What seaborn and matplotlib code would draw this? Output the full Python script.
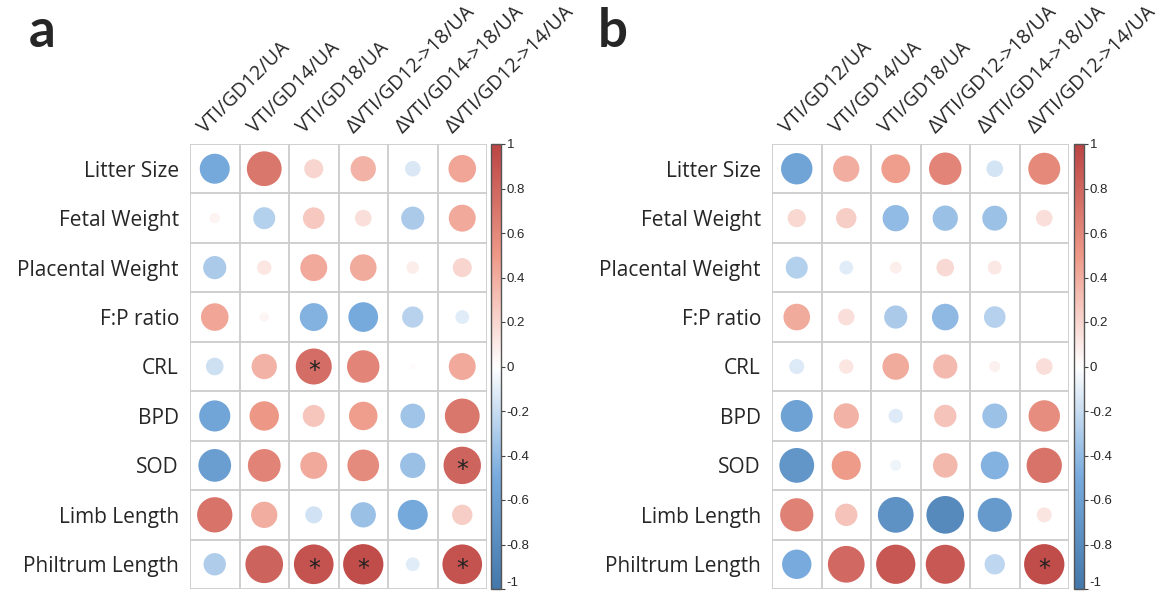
import numpy as np
import pandas as pd
import matplotlib
matplotlib.use("Agg")
import matplotlib.pyplot as plt
import matplotlib.transforms as mtransforms
from matplotlib.colors import LinearSegmentedColormap, Normalize
import seaborn as sns

sns.set_style("white")
plt.rcParams['font.family'] = ['Open Sans', 'DejaVu Sans']

rows = ["Litter Size", "Fetal Weight", "Placental Weight", "F:P ratio", "CRL",
        "BPD", "SOD", "Limb Length", "Philtrum Length"]
cols = ["VTI/GD12/UA", "VTI/GD14/UA", "VTI/GD18/UA",
        "ΔVTI/GD12->18/UA", "ΔVTI/GD14->18/UA", "ΔVTI/GD12->14/UA"]

r_a = [
    [-0.52, 0.70, 0.21, 0.37, -0.14, 0.44],
    [0.06, -0.28, 0.27, 0.16, -0.31, 0.42],
    [-0.31, 0.12, 0.42, 0.41, 0.09, 0.21],
    [0.44, 0.05, -0.45, -0.51, -0.26, -0.11],
    [-0.18, 0.37, 0.75, 0.61, 0.02, 0.42],
    [-0.56, 0.50, 0.28, 0.47, -0.35, 0.70],
    [-0.62, 0.62, 0.42, 0.58, -0.37, 0.81],
    [0.72, 0.40, -0.17, -0.37, -0.52, 0.24],
    [-0.29, 0.82, 0.91, 0.94, -0.11, 0.91],
]
r_b = [
    [-0.57, 0.40, 0.48, 0.61, -0.16, 0.59],
    [0.19, 0.24, -0.40, -0.37, -0.36, 0.16],
    [-0.28, -0.11, 0.08, 0.18, 0.11, 0.005],
    [0.41, 0.16, -0.31, -0.41, -0.27, 0.004],
    [-0.13, 0.12, 0.41, 0.34, 0.07, 0.16],
    [-0.59, 0.37, -0.12, 0.29, -0.36, 0.57],
    [-0.70, 0.49, -0.07, 0.35, -0.45, 0.72],
    [0.64, 0.29, -0.74, -0.82, -0.67, 0.13],
    [-0.50, 0.78, 0.89, 0.88, -0.24, 0.94],
]
sig_a = [(4, 2), (6, 5), (8, 2), (8, 3), (8, 5)]
sig_b = [(8, 5)]

cmap = LinearSegmentedColormap.from_list(
    "corr", ["#4477AA", "#77AADD", "#FFFFFF", "#EE9988", "#BB4444"])

W, H = 1168, 594
fig = plt.figure(figsize=(W / 100, H / 100), dpi=100)


def panel(left_px, cbar_px, r, sig, letter, letter_x):
    ax = fig.add_axes([left_px / W, 1 - 589 / H, 297 / W, 445 / H])
    df = pd.DataFrame([(i, j, r[i][j]) for i in range(len(rows)) for j in range(len(cols))],
                      columns=["row", "col", "r"])
    df["absr"] = df["r"].abs()
    cell_pt = 297 / len(cols) * 72 / 100
    smax = (0.84 * cell_pt) ** 2
    sns.scatterplot(data=df, x="col", y="row", hue="r", palette=cmap, hue_norm=(-1, 1),
                    size="absr", sizes=(0, smax), size_norm=(0, 1), linewidth=0,
                    legend=False, ax=ax, zorder=3)
    ax.set_xlim(-0.5, len(cols) - 0.5)
    ax.set_ylim(len(rows) - 0.5, -0.5)
    for k in range(len(cols) + 1):
        ax.axvline(k - 0.5, color="#cccccc", lw=1.3, zorder=1)
    for k in range(len(rows) + 1):
        ax.axhline(k - 0.5, color="#cccccc", lw=1.3, zorder=1)
    for s in ax.spines.values():
        s.set_visible(False)
    ax.set_xlabel("")
    ax.set_ylabel("")
    ax.set_xticks([])
    ax.set_yticks(range(len(rows)))
    ax.set_yticklabels(rows, fontsize=15)
    ax.tick_params(axis="y", length=0, pad=8)
    trans = mtransforms.offset_copy(ax.transData, fig=fig, x=-7, y=7, units="points")
    for j, c in enumerate(cols):
        ax.text(j, -0.5, c, rotation=45, ha="left", va="baseline",
                rotation_mode="anchor", fontsize=14.2, transform=trans)
    for (i, j) in sig:
        ax.text(j, i + 0.1, "*", ha="center", va="center", fontsize=17, color="#222222",
                family="DejaVu Sans", zorder=5)
    cax = fig.add_axes([cbar_px / W, 1 - 589 / H, 10 / W, 445 / H])
    sm = plt.cm.ScalarMappable(norm=Normalize(-1, 1), cmap=cmap)
    cb = fig.colorbar(sm, cax=cax, ticks=np.round(np.arange(-1, 1.01, 0.2), 1))
    cb.ax.set_yticklabels(["-1", "-0.8", "-0.6", "-0.4", "-0.2", "0",
                           "0.2", "0.4", "0.6", "0.8", "1"],
                          fontsize=9.5, family="Liberation Sans")
    cb.ax.get_yticklabels()[0].set_va("bottom")
    cb.ax.tick_params(length=3, width=0.8, pad=1, color="#444444")
    cb.outline.set_edgecolor("#555555")
    cb.outline.set_linewidth(1.0)
    fig.text(letter_x / W, 1 - 47 / H, letter, fontsize=38, fontweight="bold",
             family="Lato", ha="left", va="baseline")


panel(190, 491, r_a, sig_a, "a", 29)
panel(772, 1074, r_b, sig_b, "b", 598)

fig.savefig("out.png", dpi=100)
